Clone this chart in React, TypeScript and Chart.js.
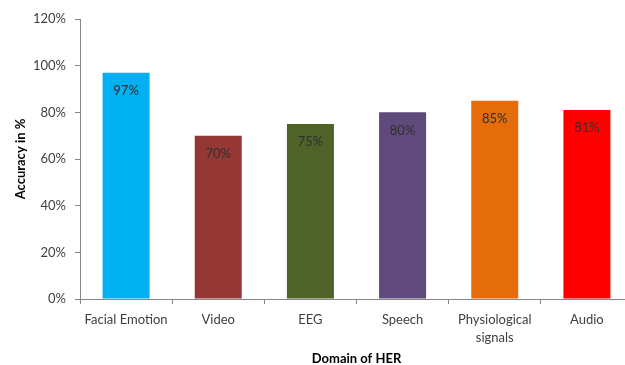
import React, { useEffect, useRef } from "react";
import { Chart, registerables } from "chart.js";

Chart.register(...registerables);

const categories: (string | string[])[] = [
  "Facial Emotion",
  "Video",
  "EEG",
  "Speech",
  ["Physiological", "signals"],
  "Audio",
];
const accuracy = [97, 70, 75, 80, 85, 81];
const barColors = ["#00B0F0", "#953735", "#4F6228", "#604A7B", "#E46C0A", "#FF0000"];
const yTicks = [0, 20, 40, 60, 80, 100, 120];

const FONT = "Lato, 'Open Sans', sans-serif";

const labelPlugin = {
  id: "barLabels",
  afterDatasetsDraw(chart: any) {
    const ctx = chart.ctx;
    const meta = chart.getDatasetMeta(0);
    ctx.save();
    ctx.font = `13px ${FONT}`;
    ctx.fillStyle = "#2f2f2f";
    ctx.textAlign = "center";
    ctx.textBaseline = "middle";
    meta.data.forEach((bar: any, i: number) => {
      ctx.fillText(`${accuracy[i]}%`, bar.x, bar.y + 18);
    });
    ctx.restore();
  },
};

export default function App() {
  const ref = useRef<HTMLCanvasElement>(null);
  useEffect(() => {
    if (!ref.current) return;
    const chart = new Chart(ref.current, {
      type: "bar",
      data: {
        labels: categories,
        datasets: [
          {
            data: accuracy,
            backgroundColor: barColors,
            borderWidth: 0,
            categoryPercentage: 1,
            barPercentage: 0.51,
          },
        ],
      },
      options: {
        responsive: false,
        animation: false,
        layout: { padding: { top: 19, right: 27, left: 13, bottom: 0 } },
        plugins: { legend: { display: false }, tooltip: { enabled: false } },
        scales: {
          x: {
            grid: {
              drawOnChartArea: false,
              drawTicks: true,
              tickLength: 5,
              color: "#868686",
              offset: true,
            },
            border: { color: "#868686", width: 1 },
            ticks: {
              color: "#404040",
              font: { family: FONT, size: 13, lineHeight: 1.4 },
              padding: 7,
              maxRotation: 0,
              autoSkip: false,
            },
            title: {
              display: true,
              text: "Domain of HER",
              color: "#000000",
              font: { family: FONT, size: 13, weight: "bold" },
              padding: { top: 4, bottom: -2 },
            },
            afterFit(scale: any) {
              scale.height = 66;
            },
          },
          y: {
            min: 0,
            max: 120,
            afterBuildTicks(scale: any) {
              scale.ticks = yTicks.map((v) => ({ value: v }));
            },
            grid: {
              drawOnChartArea: false,
              drawTicks: true,
              tickLength: 5,
              color: "#868686",
            },
            border: { color: "#868686", width: 1 },
            ticks: {
              color: "#404040",
              font: { family: FONT, size: 13 },
              padding: 9,
              callback: (v: any) => `${v}%`,
            },
            title: {
              display: true,
              text: "Accuracy in %",
              color: "#000000",
              font: { family: FONT, size: 13, weight: "bold" },
              padding: { top: 0, bottom: 0 },
            },
            afterFit(scale: any) {
              scale.width = 67;
            },
          },
        },
      },
      plugins: [labelPlugin],
    });
    return () => chart.destroy();
  }, []);
  return (
    <div
      style={{
        position: "fixed",
        left: 0,
        top: 0,
        width: 625,
        height: 365,
        overflow: "hidden",
        background: "#ffffff",
      }}
    >
      <canvas ref={ref} width={660} height={365} />
    </div>
  );
}
